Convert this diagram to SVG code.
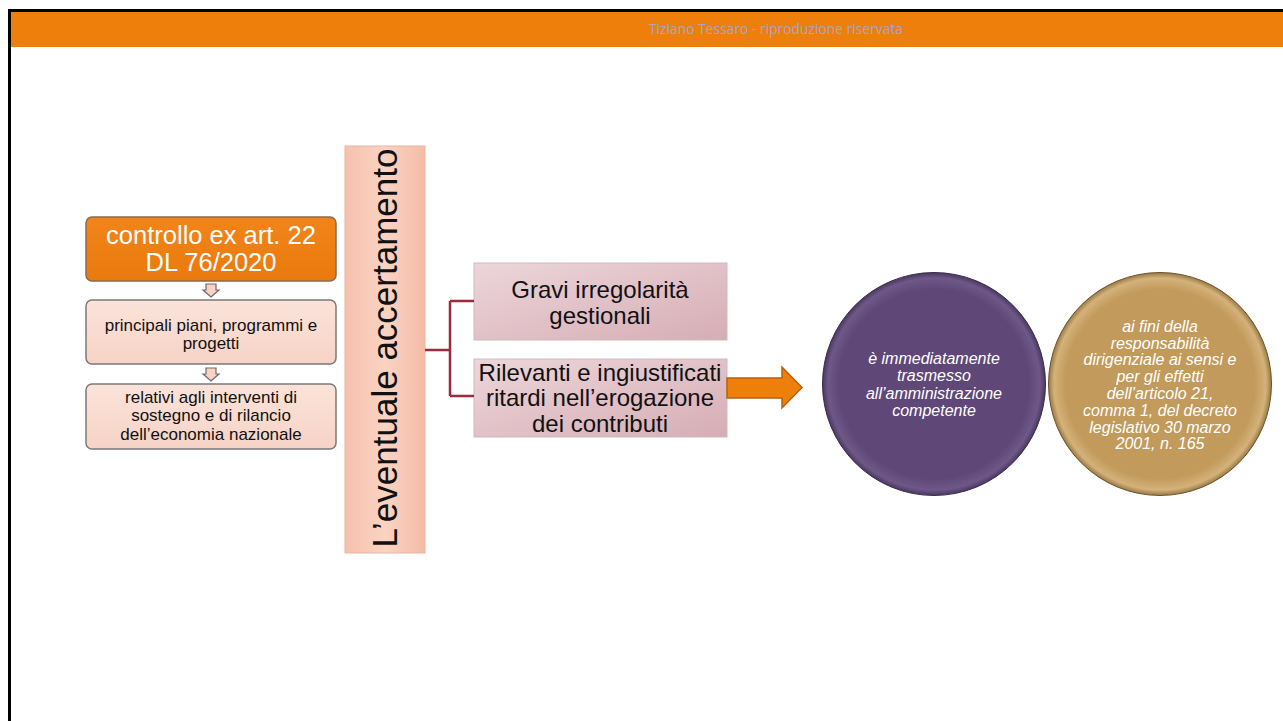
<svg xmlns="http://www.w3.org/2000/svg" width="1283" height="721" viewBox="0 0 1283 721">
<defs>
<linearGradient id="gOrange" x1="0" y1="0" x2="0" y2="1">
<stop offset="0" stop-color="#f2841a"/><stop offset="1" stop-color="#ea7a0c"/>
</linearGradient>
<linearGradient id="gPink" x1="0" y1="0" x2="0" y2="1">
<stop offset="0" stop-color="#fbe3da"/><stop offset="1" stop-color="#f6d3c6"/>
</linearGradient>
<linearGradient id="gSalmon" x1="0" y1="0" x2="1" y2="0">
<stop offset="0" stop-color="#f6c1ad"/><stop offset="0.5" stop-color="#fad3c3"/><stop offset="1" stop-color="#f4bca6"/>
</linearGradient>
<linearGradient id="gRose" x1="0" y1="0" x2="1" y2="1">
<stop offset="0" stop-color="#ecd6da"/><stop offset="1" stop-color="#d6adb5"/>
</linearGradient>
<radialGradient id="gPurple" cx="0.5" cy="0.5" r="0.5">
<stop offset="0.85" stop-color="#5f4878"/><stop offset="0.95" stop-color="#6e5888"/><stop offset="1" stop-color="#4a3860"/>
</radialGradient>
<radialGradient id="gGold" cx="0.5" cy="0.5" r="0.5">
<stop offset="0.85" stop-color="#c29a5c"/><stop offset="0.95" stop-color="#d4b27a"/><stop offset="1" stop-color="#9a7844"/>
</radialGradient>
<style>
.t{font-family:"Liberation Sans",Arial,sans-serif;text-anchor:middle}
.lbox{fill:url(#gPink);stroke:#7a7a7a;stroke-width:1.5}
.sm{font-size:17px;fill:#111}
.mid{font-size:24px;fill:#111}
.ci{font-size:16px;font-style:italic;fill:#fff}
.dn{fill:#f9d2c3;stroke:#6a6a6a;stroke-width:1.2}
.rose{fill:url(#gRose);stroke:#cfb9bd;stroke-width:1}
</style>
</defs>
<rect x="0" y="0" width="1283" height="721" fill="#fff"/>
<rect x="8" y="9" width="1275" height="3" fill="#000"/>
<rect x="8" y="9" width="3" height="712" fill="#000"/>
<rect x="11" y="12" width="1272" height="35" fill="#ef7f0b"/>
<text x="776" y="34" textLength="254" lengthAdjust="spacingAndGlyphs" style="font-family:'Open Sans','DejaVu Sans',sans-serif;font-size:14px;fill:#a6a6c6;text-anchor:middle">Tiziano Tessaro - riproduzione riservata</text>

<g id="node-controllo">
<rect x="86" y="217" width="250" height="64" rx="6" fill="url(#gOrange)" stroke="#8a6a50" stroke-width="1.5"/>
<text class="t" x="211" y="244" style="font-size:25.5px;fill:#fff">controllo ex art. 22</text>
<text class="t" x="211" y="271" style="font-size:25.5px;fill:#fff">DL 76/2020</text>
</g>
<g id="node-piani">
<rect class="lbox" x="86" y="300" width="250" height="64" rx="6"/>
<text class="t sm" x="211" y="331">principali piani, programmi e</text>
<text class="t sm" x="211" y="349">progetti</text>
</g>
<g id="node-relativi">
<rect class="lbox" x="86" y="384" width="250" height="65" rx="6"/>
<text class="t sm" x="211" y="403">relativi agli interventi di</text>
<text class="t sm" x="211" y="421">sostegno e di rilancio</text>
<text class="t sm" x="211" y="440">dell’economia nazionale</text>
</g>
<g id="node-accertamento">
<rect x="345" y="146" width="80" height="407" fill="url(#gSalmon)" stroke="#e8b4a0" stroke-width="1"/>
<text class="t" transform="translate(397 348) rotate(-90)" style="font-size:35px;fill:#111">L’eventuale accertamento</text>
</g>
<g id="node-gravi">
<rect class="rose" x="474" y="263" width="253" height="77"/>
<text class="t mid" x="600" y="298">Gravi irregolarità</text>
<text class="t mid" x="600" y="324">gestionali</text>
</g>
<g id="node-rilevanti">
<rect class="rose" x="474" y="359" width="253" height="78"/>
<text class="t mid" x="600" y="381">Rilevanti e ingiustificati</text>
<text class="t mid" x="600" y="406">ritardi nell’erogazione</text>
<text class="t mid" x="600" y="432">dei contributi</text>
</g>
<g id="node-trasmesso">
<circle cx="934" cy="384" r="111.5" fill="url(#gPurple)" stroke="#3a2c4a" stroke-width="1"/>
<text class="t ci" x="934" y="364">è immediatamente</text>
<text class="t ci" x="934" y="381">trasmesso</text>
<text class="t ci" x="934" y="399">all’amministrazione</text>
<text class="t ci" x="934" y="416">competente</text>
</g>
<g id="node-responsabilita">
<circle cx="1160" cy="384" r="111.5" fill="url(#gGold)" stroke="#6a5430" stroke-width="1"/>
<text class="t ci" x="1160" y="332">ai fini della</text>
<text class="t ci" x="1160" y="349">responsabilità</text>
<text class="t ci" x="1160" y="365">dirigenziale ai sensi e</text>
<text class="t ci" x="1160" y="382">per gli effetti</text>
<text class="t ci" x="1160" y="399">dell’articolo 21,</text>
<text class="t ci" x="1160" y="416">comma 1, del decreto</text>
<text class="t ci" x="1160" y="433">legislativo 30 marzo</text>
<text class="t ci" x="1160" y="449">2001, n. 165</text>
</g>
<g id="connectors">
<path class="dn" d="M206 284 H216 V290 H219 L211 297 L203 290 H206 Z"/>
<path class="dn" d="M206 368 H216 V374 H219 L211 381 L203 374 H206 Z"/>
<path d="M425 350 H450 M450 301 V396 M450 301 H474 M450 396 H474" fill="none" stroke="#9b2a3a" stroke-width="2.5"/>
<path d="M727 378 H782 V367 L802 387.5 L782 408 V398 H727 Z" fill="#ef7f0b" stroke="#b8600e" stroke-width="1.5"/>
</g>
</svg>
